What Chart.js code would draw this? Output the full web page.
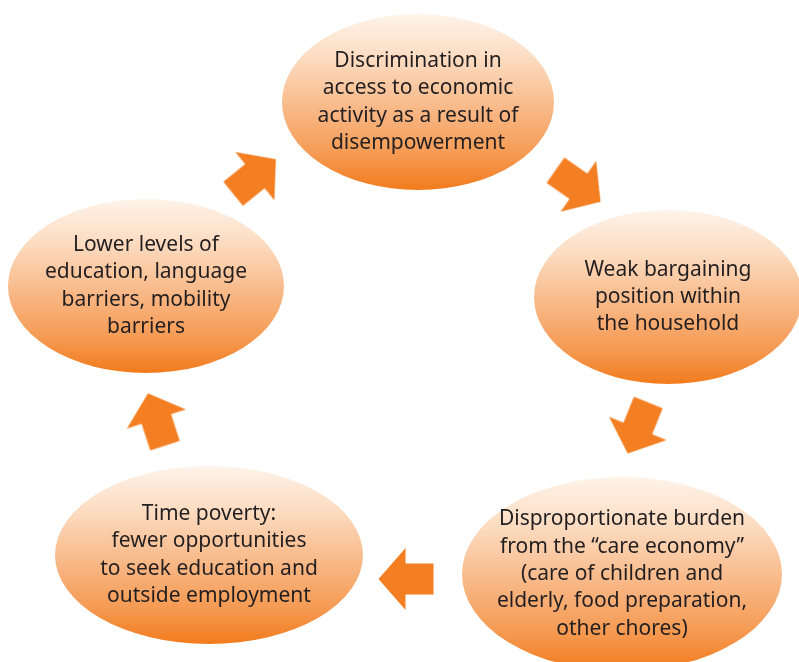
<!DOCTYPE html>
<html><head><meta charset="utf-8">
<script src="https://cdn.jsdelivr.net/npm/chart.js@4/dist/chart.umd.min.js"></script>
<style>html,body{margin:0;padding:0;background:#fff}#wrap{width:799px;height:662px;position:relative}</style>
</head><body><div id="wrap"><canvas id="c"></canvas></div>
<script>
// Cycle nodes (diagram coordinates: x 0..799, y 0..662 from top)
const nodeLabels = [
  ["Discrimination in", "access to economic", "activity as a result of", "disempowerment"],
  ["Weak bargaining", "position within", "the household"],
  ["Disproportionate burden", "from the \u201Ccare economy\u201D", "(care of children and", "elderly, food preparation,", "other chores)"],
  ["Time poverty:", "fewer opportunities", "to seek education and", "outside employment"],
  ["Lower levels of", "education, language", "barriers, mobility", "barriers"]
];
const nodeX  = [418, 668, 622, 209, 146];
const nodeY  = [102, 297, 574, 555, 286];
const nodeRx = [136, 134, 160, 154, 138];
const nodeRy = [88, 87, 97, 89, 87];

// Arrows between nodes (centre and direction in degrees)
const arrowX = [578, 638, 406, 156.5, 254.5];
const arrowY = [186, 428, 579, 419.5, 176.5];
const arrowAngle = [35, 112, 180, 252, -39];

const ORANGE = '#f47f22';
const cache = {};
function ellipseImage(i, rx, ry) {
  const key = i + ':' + Math.round(rx) + ':' + Math.round(ry);
  if (cache[key]) return cache[key];
  const c = document.createElement('canvas');
  c.width = Math.ceil(rx * 2 + 2); c.height = Math.ceil(ry * 2 + 2);
  const g = c.getContext('2d');
  const grd = g.createLinearGradient(0, 1, 0, 2 * ry + 1);
  grd.addColorStop(0, '#fef3ea');
  grd.addColorStop(0.25, '#fcdcc1');
  grd.addColorStop(0.55, '#f8b785');
  grd.addColorStop(0.8, '#f59a52');
  grd.addColorStop(1, '#f27b1c');
  g.beginPath();
  g.ellipse(c.width / 2, c.height / 2, rx, ry, 0, 0, Math.PI * 2);
  g.fillStyle = grd; g.fill();
  cache[key] = c;
  return c;
}
let arrowCanvas = null;
function arrowImage() {
  if (arrowCanvas) return arrowCanvas;
  const c = document.createElement('canvas');
  c.width = 58; c.height = 66;
  const g = c.getContext('2d');
  const cx = 29, cy = 33;
  const L = 55, hl = 27, hw = 31, sw = 15.5;
  g.beginPath();
  g.moveTo(cx + L / 2, cy);
  g.lineTo(cx + L / 2 - hl, cy - hw);
  g.lineTo(cx + L / 2 - hl, cy - sw);
  g.lineTo(cx - L / 2, cy - sw);
  g.lineTo(cx - L / 2, cy + sw);
  g.lineTo(cx + L / 2 - hl, cy + sw);
  g.lineTo(cx + L / 2 - hl, cy + hw);
  g.closePath();
  g.fillStyle = ORANGE; g.fill();
  arrowCanvas = c;
  return c;
}

function pixelRadius(scale, v, r) {
  const d = Math.abs(scale.getPixelForValue(v + r) - scale.getPixelForValue(v));
  return isFinite(d) && d > 1 ? d : r;
}

const labelPlugin = {
  id: 'nodeLabels',
  afterDatasetsDraw(chart) {
    const { ctx, scales: { x, y } } = chart;
    ctx.save();
    ctx.font = '21px "Noto Sans"';
    ctx.fillStyle = '#231f20';
    ctx.textAlign = 'center';
    ctx.textBaseline = 'middle';
    const lh = 27.3;
    nodeLabels.forEach((lines, i) => {
      const cx = x.getPixelForValue(nodeX[i]);
      const cy = y.getPixelForValue(nodeY[i]);
      const n = lines.length;
      lines.forEach((t, j) => ctx.fillText(t, cx, cy + (j - (n - 1) / 2) * lh));
    });
    ctx.restore();
  }
};

new Chart(document.getElementById('c'), {
  type: 'scatter',
  data: {
    datasets: [
      {
        label: 'arrows',
        data: arrowX.map((v, i) => ({ x: v, y: arrowY[i] })),
        pointStyle: () => arrowImage(),
        pointRotation: (ctx) => arrowAngle[ctx.dataIndex] || 0,
        pointRadius: 20,
        clip: false
      },
      {
        label: 'nodes',
        data: nodeX.map((v, i) => ({ x: v, y: nodeY[i] })),
        pointStyle: (ctx) => {
          const i = ctx.dataIndex;
          if (i === undefined || i === null) return 'circle';
          const sx = ctx.chart.scales.x, sy = ctx.chart.scales.y;
          const rx = sx ? pixelRadius(sx, nodeX[i], nodeRx[i]) : nodeRx[i];
          const ry = sy ? pixelRadius(sy, nodeY[i], nodeRy[i]) : nodeRy[i];
          return ellipseImage(i, rx, ry);
        },
        pointRadius: 20,
        clip: false
      }
    ]
  },
  options: {
    responsive: true,
    maintainAspectRatio: false,
    animation: false,
    events: [],
    layout: { padding: 0, autoPadding: false },
    plugins: { legend: { display: false }, tooltip: { enabled: false } },
    scales: {
      x: { type: 'linear', min: 0, max: 799, display: false },
      y: { type: 'linear', min: 0, max: 662, reverse: true, display: false }
    }
  },
  plugins: [labelPlugin]
});
</script>
</body></html>
